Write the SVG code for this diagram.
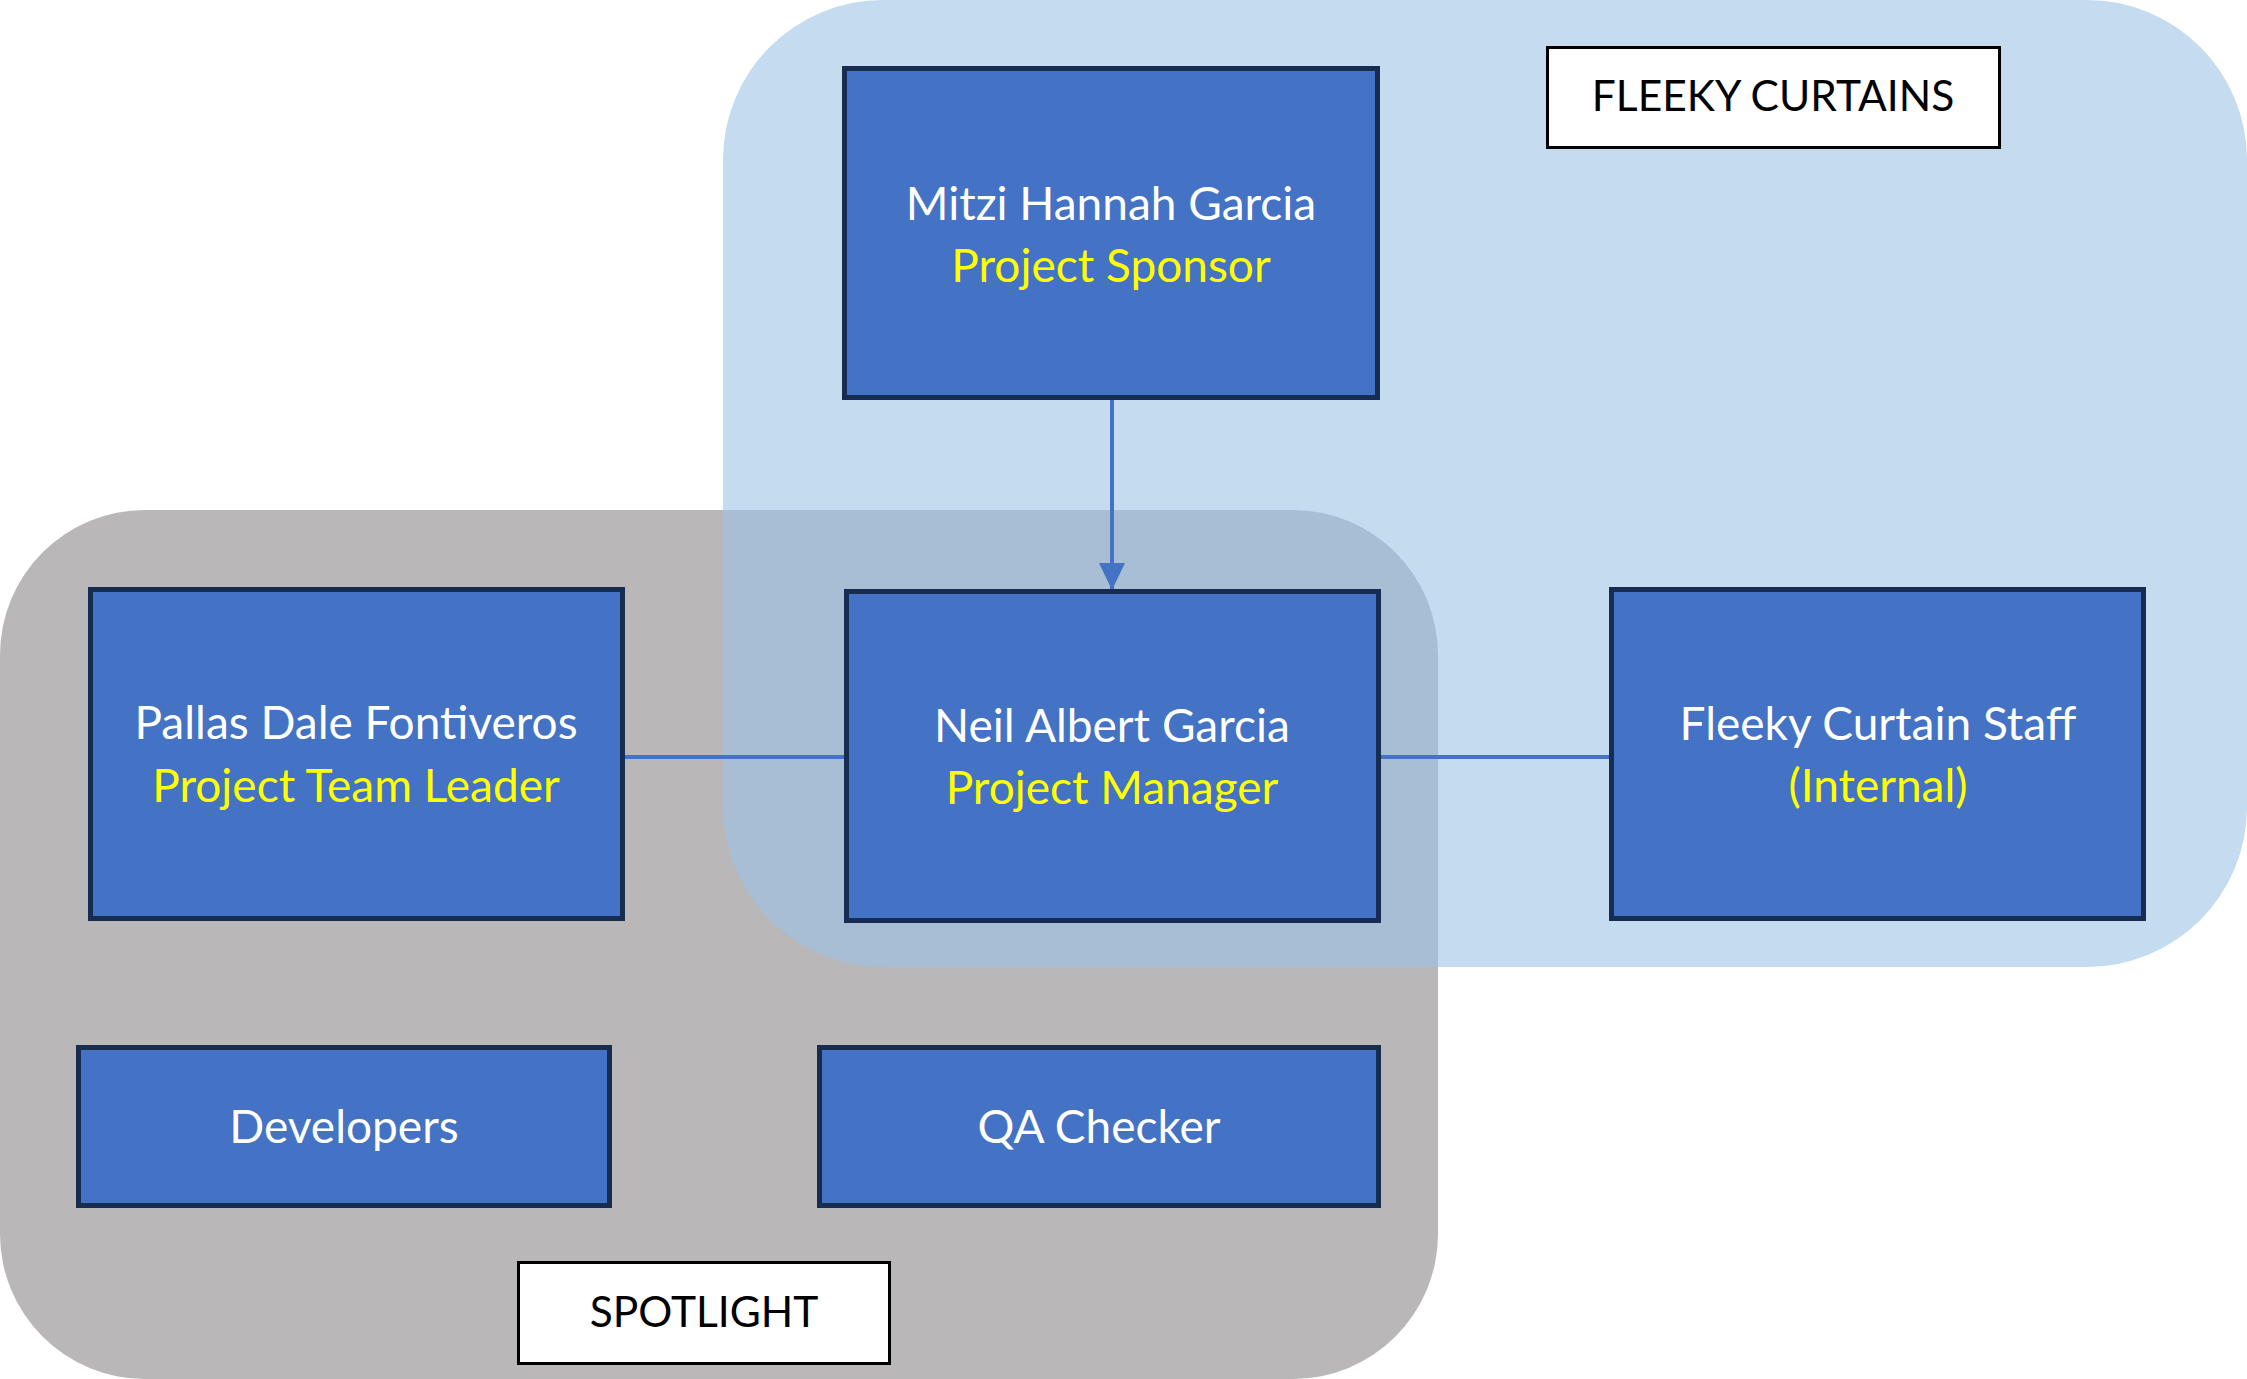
<svg xmlns="http://www.w3.org/2000/svg" width="2247" height="1379" viewBox="0 0 2247 1379">
<style>
.node rect{fill:#4472C4;stroke:#172C51;stroke-width:5}
.label rect{fill:#FFFFFF;stroke:#000000;stroke-width:3}
text{font-family:Lato,"Open Sans","Liberation Sans",sans-serif;font-size:46px;text-anchor:middle}
.w{fill:#FFFFFF}
.y{fill:#FFFF00}
.k{fill:#000000;font-size:42.5px}
.conn{stroke:#4472C4;stroke-width:4;fill:none}
</style>
<defs>
<marker id="arrow" markerUnits="userSpaceOnUse" markerWidth="28" markerHeight="28" refX="27" refY="13" orient="auto">
<path d="M0,0 L27,13 L0,26 Z" fill="#4472C4"/>
</marker>
</defs>
<g id="region-spotlight">
<rect x="0" y="510" width="1438" height="869" rx="145" ry="145" fill="#B9B7B8"/>
</g>
<g id="region-fleeky">
<rect x="723" y="0" width="1524" height="967" rx="160" ry="160" fill="#9DC3E6" fill-opacity="0.6"/>
</g>
<g id="connectors">
<line class="conn" x1="1112" y1="400" x2="1112" y2="590" marker-end="url(#arrow)"/>
<line class="conn" x1="625" y1="757" x2="845" y2="757"/>
<line class="conn" x1="1381" y1="757" x2="1609" y2="757"/>
</g>
<g id="node-mitzi" class="node">
<rect x="844.5" y="68.5" width="533" height="329"/>
<text class="w" x="1111" y="220">Mitzi Hannah Garcia</text>
<text class="y" x="1111" y="282">Project Sponsor</text>
</g>
<g id="node-neil" class="node">
<rect x="846.5" y="591.5" width="532" height="329"/>
<text class="w" x="1112" y="742">Neil Albert Garcia</text>
<text class="y" x="1112" y="804">Project Manager</text>
</g>
<g id="node-pallas" class="node">
<rect x="90.5" y="589.5" width="532" height="329"/>
<text class="w" x="356" y="739">Pallas Dale Fontiveros</text>
<text class="y" x="356" y="802">Project Team Leader</text>
</g>
<g id="node-staff" class="node">
<rect x="1611.5" y="589.5" width="532" height="329"/>
<text class="w" x="1878" y="740">Fleeky Curtain Staff</text>
<text class="y" x="1878" y="802">(Internal)</text>
</g>
<g id="node-developers" class="node">
<rect x="78.5" y="1047.5" width="531" height="158"/>
<text class="w" x="344" y="1143">Developers</text>
</g>
<g id="node-qa" class="node">
<rect x="819.5" y="1047.5" width="559" height="158"/>
<text class="w" x="1099" y="1143">QA Checker</text>
</g>
<g id="label-fleeky" class="label">
<rect x="1547.5" y="47.5" width="452" height="100"/>
<text class="k" x="1773" y="111">FLEEKY CURTAINS</text>
</g>
<g id="label-spotlight" class="label">
<rect x="518.5" y="1262.5" width="371" height="101"/>
<text class="k" x="704" y="1327">SPOTLIGHT</text>
</g>
</svg>
